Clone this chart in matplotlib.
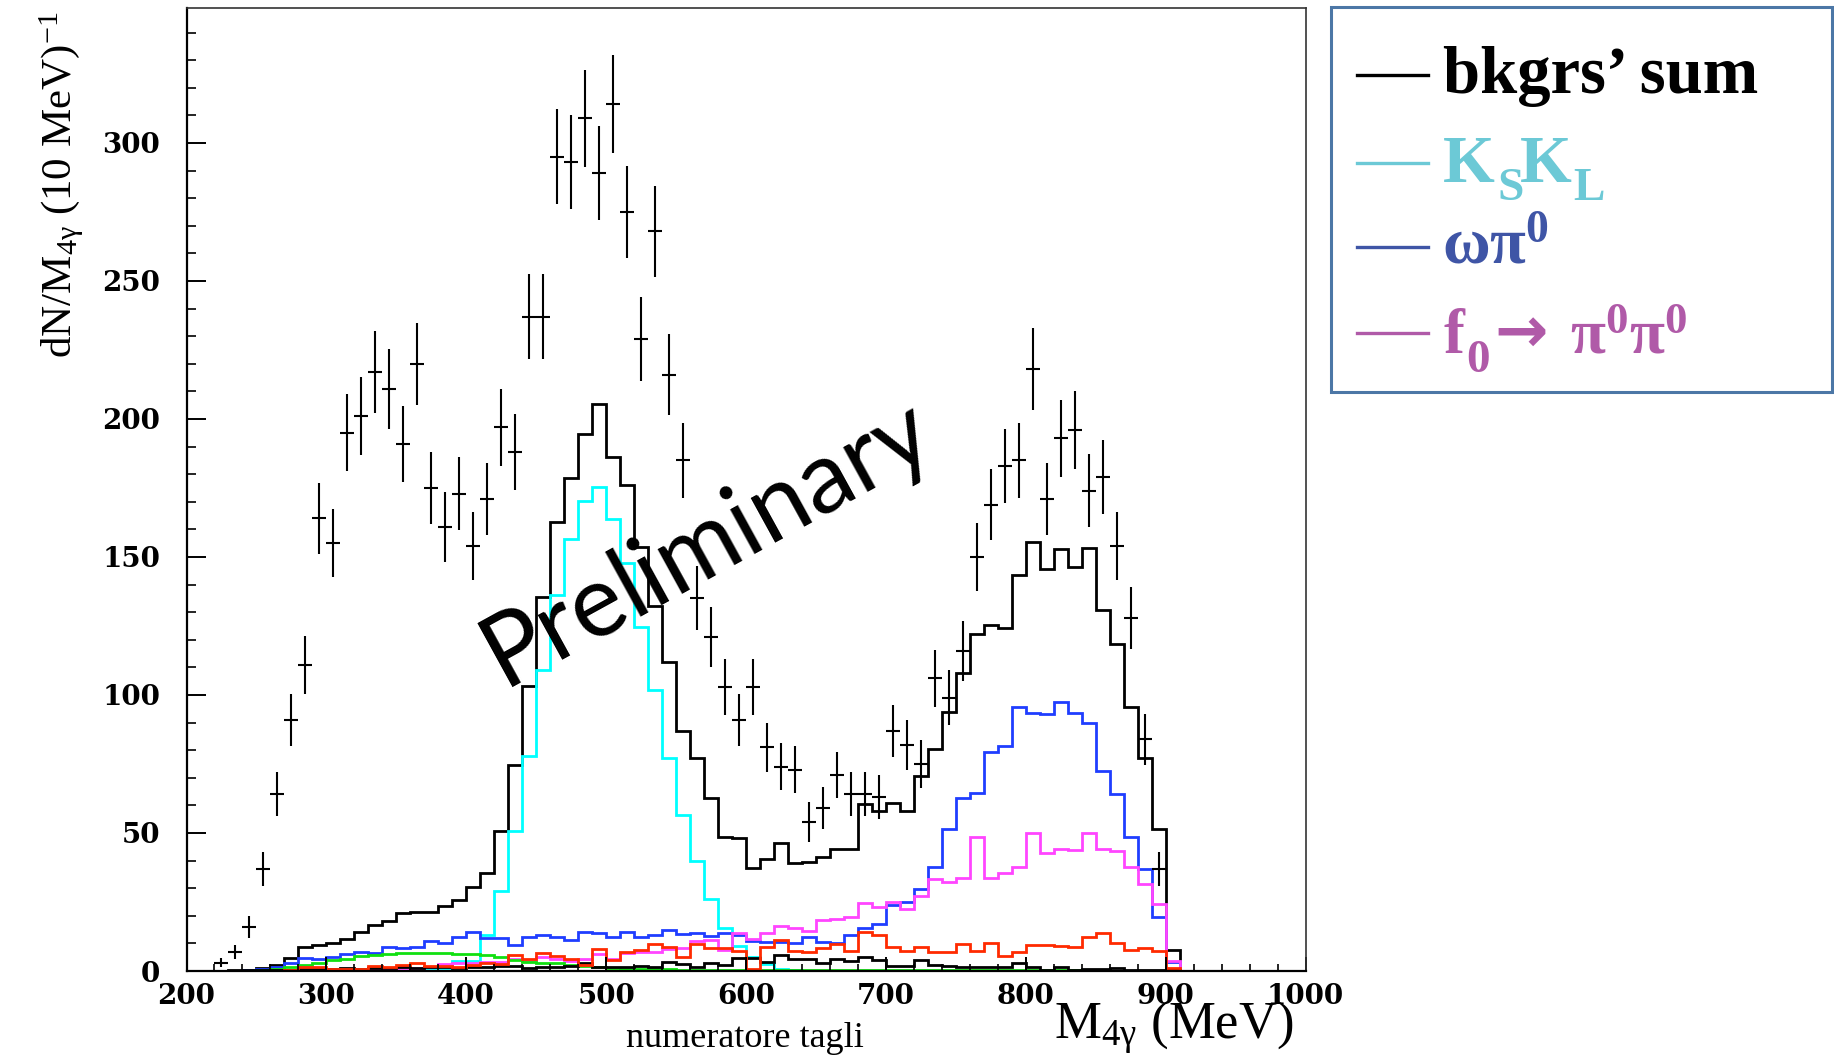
import numpy as np
import matplotlib
matplotlib.use("Agg")
import matplotlib.pyplot as plt
from matplotlib.patches import Rectangle
from matplotlib.lines import Line2D

plt.rcParams["mathtext.fontset"] = "custom"
plt.rcParams["mathtext.rm"] = "Liberation Serif"
plt.rcParams["mathtext.it"] = "Liberation Serif:italic"
plt.rcParams["mathtext.bf"] = "Liberation Serif:bold"

# ---- binning: 10 MeV bins from 200 to 1000 MeV ----
bin_lo = 200
bin_hi = 1000
bin_w = 10

# ---- MC histograms (events / 10 MeV), one value per bin ----
bkg_sum = [0, 0, 0, 0.3, 0.5, 1.2, 2.0, 4.6, 8.8, 9.4,
           10.0, 11.5, 14.3, 16.7, 18.2, 20.9, 21.3, 21.3, 23.7, 25.7,
           30.6, 35.4, 50.8, 74.6, 103.3, 135.6, 162.6, 178.7, 194.5, 205.5,
           186.3, 176.2, 153.5, 132.3, 111.9, 86.8, 77.3, 62.7, 48.6, 48.1,
           37.3, 40.7, 46.5, 39.2, 39.4, 41.4, 44.3, 44.3, 60.4, 58.0,
           61.0, 58.1, 70.8, 80.5, 93.8, 107.8, 122.2, 125.5, 124.4, 143.5,
           155.3, 145.7, 152.8, 146.3, 153.1, 130.7, 118.6, 95.8, 77.3, 51.5,
           7.6, 0, 0, 0, 0, 0, 0, 0, 0, 0]

ks_kl = [0, 0, 0, 0, 0, 0, 0, 0, 0, 0,
         0, 0, 0, 0, 0, 0, 0, 0.3, 0.5, 3.5,
         3.5, 13.0, 29.1, 50.8, 77.9, 109.0, 136.2, 156.5, 170.3, 175.4,
         163.9, 148.0, 124.7, 101.9, 77.3, 56.6, 40.0, 26.2, 15.7, 9.1,
         5.0, 2.5, 0.8, 0.3, 0, 0, 0, 0, 0, 0,
         0, 0, 0, 0, 0, 0, 0, 0, 0, 0,
         0, 0, 0, 0, 0, 0, 0, 0, 0, 0,
         0, 0, 0, 0, 0, 0, 0, 0, 0, 0]

omega_pi0 = [0, 0, 0, 0, 0.3, 0.8, 1.3, 2.8, 4.6, 4.2,
             5.2, 6.2, 7.0, 6.4, 8.6, 8.2, 8.8, 10.9, 10.0, 12.2,
             14.3, 11.8, 12.1, 9.4, 12.2, 13.0, 12.4, 11.2, 14.3, 13.6,
             12.4, 14.3, 12.4, 13.0, 14.9, 13.5, 13.6, 12.7, 13.6, 13.0,
             11.0, 10.6, 10.6, 10.0, 12.2, 10.6, 10.3, 13.0, 15.5, 16.9,
             23.9, 25.1, 29.6, 37.8, 51.3, 62.6, 64.4, 79.5, 81.6, 95.8,
             93.3, 93.0, 97.3, 93.4, 90.0, 72.3, 64.1, 48.6, 36.9, 19.7,
             3.1, 0, 0, 0, 0, 0, 0, 0, 0, 0]

f0_pi0pi0 = [0, 0, 0, 0, 0, 0, 0, 0, 0, 0,
             0.3, 0.3, 0.5, 0.8, 0.8, 1.0, 1.2, 1.3, 2.5, 2.8,
             2.8, 3.3, 3.3, 4.5, 3.5, 5.0, 4.5, 3.5, 4.5, 6.0,
             4.5, 6.5, 7.0, 7.0, 8.0, 8.2, 11.0, 11.2, 7.6, 13.6,
             11.5, 13.9, 16.3, 15.7, 14.5, 18.5, 19.0, 19.7, 24.5, 23.3,
             25.1, 22.3, 27.2, 33.2, 32.4, 33.6, 48.4, 33.6, 35.6, 37.8,
             50.1, 42.6, 44.1, 43.8, 50.1, 44.1, 43.6, 37.8, 31.5, 24.2,
             3.6, 0, 0, 0, 0, 0, 0, 0, 0, 0]

red_bkg = [0, 0, 0, 0, 0, 0, 0, 0.5, 1.6, 1.3,
           0.6, 0.6, 0.6, 1.9, 1.3, 2.2, 2.8, 1.8, 1.8, 1.3,
           2.2, 2.8, 2.5, 5.8, 4.3, 6.6, 5.4, 4.3, 2.2, 7.9,
           4.0, 7.0, 7.6, 9.7, 8.8, 5.2, 9.8, 8.2, 8.2, 7.4,
           0.6, 8.8, 11.2, 7.4, 7.0, 8.2, 9.8, 7.4, 14.3, 13.0,
           8.8, 7.4, 8.8, 7.0, 7.0, 9.8, 7.4, 10.3, 5.4, 7.0,
           9.4, 9.4, 9.1, 8.6, 12.4, 13.6, 10.3, 7.6, 8.5, 7.4,
           1.0, 0, 0, 0, 0, 0, 0, 0, 0, 0]

green_bkg = [0, 0, 0, 0, 0, 0.3, 0.8, 1.5, 2.2, 2.8,
             4.0, 4.3, 5.4, 5.8, 6.2, 6.4, 6.4, 6.4, 6.6, 6.2,
             6.0, 5.8, 5.2, 4.0, 3.4, 3.0, 2.8, 2.2, 1.8, 1.3,
             1.0, 0.8, 0.8, 0.8, 0.8, 0.5, 0.5, 0.5, 0.5, 0.5,
             0.4, 0.4, 0.4, 0.4, 0.4, 0.4, 0.4, 0.4, 0.4, 0.4,
             0.3, 0.3, 0.3, 0.3, 0.3, 0.3, 0.3, 0.3, 0.3, 0.3,
             0.2, 0.2, 0.2, 0.2, 0.2, 0, 0, 0, 0, 0,
             0, 0, 0, 0, 0, 0, 0, 0, 0, 0]

other_bkg = [0, 0, 0, 0, 0.2, 0.3, 0.5, 0.5, 0.7, 0.7,
             0.8, 1.0, 0.8, 1.0, 1.2, 1.3, 1.0, 1.3, 1.5, 1.2,
             1.3, 1.5, 1.8, 1.9, 1.0, 1.3, 1.3, 1.8, 2.8, 1.3,
             1.5, 1.3, 1.8, 1.5, 3.1, 2.5, 1.3, 3.0, 2.2, 4.6,
             4.8, 3.4, 5.8, 4.2, 4.2, 2.8, 4.2, 3.6, 5.2, 4.0,
             1.8, 1.8, 4.0, 2.2, 1.8, 1.3, 1.3, 1.3, 1.3, 2.8,
             1.3, 0.4, 1.3, 0.4, 0.6, 0.6, 1.0, 0.4, 0.3, 0.3,
             0.3, 0, 0, 0, 0, 0, 0, 0, 0, 0]

# ---- data points (bin centres from 225 to 895 MeV) ----
data_first_center = 225
data_counts = [3, 7, 16, 37, 64, 91, 111, 164, 155, 195,
               201, 217, 211, 191, 220, 175, 161, 173, 154, 171,
               197, 188, 237, 237, 295, 293, 309, 289, 314, 275,
               229, 268, 216, 185, 135, 121, 103, 91, 103, 81,
               74, 73, 54, 59, 71, 64, 64, 63, 87, 82,
               75, 106, 99, 116, 150, 169, 183, 185, 218, 171,
               193, 196, 174, 179, 154, 128, 84, 37]
data_errors = [1.7, 2.6, 4.0, 6.1, 8.0, 9.5, 10.5, 12.8, 12.4, 14.0,
               14.2, 14.7, 14.5, 13.8, 14.8, 13.2, 12.7, 13.2, 12.4, 13.1,
               14.0, 13.7, 15.4, 15.4, 17.2, 17.1, 17.6, 17.0, 17.7, 16.6,
               15.1, 16.4, 14.7, 13.6, 11.6, 11.0, 10.1, 9.5, 10.1, 9.0,
               8.6, 8.5, 7.3, 7.7, 8.4, 8.0, 8.0, 7.9, 9.3, 9.1,
               8.7, 10.3, 9.9, 10.8, 12.2, 13.0, 13.5, 13.6, 14.8, 13.1,
               13.9, 14.0, 13.2, 13.4, 12.4, 11.3, 9.2, 6.1]

# ---- legend content ----
legend_colors = ["#000000", "#6cc9d6", "#3f55a6", "#b05aa8"]

# ---------------------------------------------------------------------------
W, H = 1834, 1061
fig = plt.figure(figsize=(W / 100, H / 100), dpi=100)
ax = fig.add_axes([186.5 / W, 1 - 971 / H, (1305.5 - 186.5) / W, (971 - 8) / H])

edges = np.arange(bin_lo, bin_hi + bin_w, bin_w)
hist_lw = 2.0
ax.stairs(bkg_sum, edges, color="black", lw=hist_lw, baseline=0)
ax.stairs(ks_kl, edges, color="#00ffff", lw=hist_lw, baseline=0)
ax.stairs(omega_pi0, edges, color="#1f3dff", lw=hist_lw, baseline=0)
ax.stairs(f0_pi0pi0, edges, color="#ff45ff", lw=hist_lw, baseline=0)
ax.stairs(green_bkg, edges, color="#10e010", lw=hist_lw, baseline=0)
ax.stairs(other_bkg, edges, color="black", lw=hist_lw, baseline=0)
ax.stairs(red_bkg, edges, color="#ff2a00", lw=hist_lw, baseline=0)

x_data = data_first_center + bin_w * np.arange(len(data_counts))
ax.errorbar(x_data, data_counts, yerr=data_errors, xerr=bin_w / 2,
            fmt="none", ecolor="black", elinewidth=1.5, capsize=0)

ax.set_xlim(bin_lo, bin_hi)
ax.set_ylim(0, 348.9)
ax.set_xticks(np.arange(200, 1001, 100))
ax.set_xticks(np.arange(200, 1001, 20), minor=True)
ax.set_yticks(np.arange(0, 301, 50))
ax.set_yticks(np.arange(0, 341, 10), minor=True)
ax.tick_params(axis="y", which="major", direction="in", length=13.7, width=1.4,
               pad=19, labelsize=20)
ax.tick_params(axis="y", which="minor", direction="in", length=6.8, width=1.2)
ax.tick_params(axis="x", which="major", direction="in", length=10, width=1.4,
               pad=8.5, labelsize=20)
ax.tick_params(axis="x", which="minor", direction="in", length=5, width=1.2)
for lbl in ax.get_xticklabels() + ax.get_yticklabels():
    lbl.set_fontfamily("DejaVu Serif")
    lbl.set_fontweight("bold")

for side in ("left", "bottom"):
    ax.spines[side].set_linewidth(1.6)
for side in ("top", "right"):
    ax.spines[side].set_linewidth(1.2)
    ax.spines[side].set_color("#333333")

# axis titles
fig.text(62 / W, 1 - 185 / H, r"dN/M$_{4\mathrm{\gamma}}$ (10 MeV)$^{-1}$",
         family="Liberation Serif", size=31, rotation=90,
         ha="center", va="center")
fig.text(1054 / W, 1 - 1039 / H, r"M$_{4\mathrm{\gamma}}$ (MeV)",
         family="Liberation Serif", size=38, ha="left", va="baseline")
fig.text(745 / W, 1 - 1047 / H, "numeratore tagli",
         family="Liberation Serif", size=26, ha="center", va="baseline")

# watermark
fig.text(721 / W, 1 - 568 / H, "Preliminary", family="Lato", size=72,
         rotation=28.8, rotation_mode="anchor", ha="center", va="baseline")

# legend box
fig.patches.append(Rectangle((1331 / W, 1 - 392 / H), 501 / W, 385 / H,
                             transform=fig.transFigure, facecolor="white",
                             edgecolor="#4c77a6", lw=2.2))
row_y = [75, 163, 247, 333]
for col, ly in zip(legend_colors, row_y):
    fig.lines.append(Line2D([1357 / W, 1428 / W], [1 - ly / H, 1 - ly / H],
                            transform=fig.transFigure, color=col, lw=2.4))


def legend_piece(x, y, s, col, size, **kw):
    fig.text(x / W, 1 - y / H, s, color=col, size=size,
             family=kw.pop("family", "Liberation Serif"),
             weight=kw.pop("weight", "bold"),
             ha=kw.pop("ha", "left"), va=kw.pop("va", "baseline"), **kw)


# row 1: background sum
legend_piece(1443, 93, "bkgrs\u2019 sum", legend_colors[0], 48)
# row 2: K_S K_L
legend_piece(1443, 182, "K", legend_colors[1], 48)
legend_piece(1497, 200, "S", legend_colors[1], 34)
legend_piece(1520, 182, "K", legend_colors[1], 48)
legend_piece(1573, 200, "L", legend_colors[1], 34)
# row 3: omega pi0
legend_piece(1442, 263, r"$\mathbf{\omega\pi^{0}}$", legend_colors[2], 47)
# row 4: f0 -> pi0 pi0
legend_piece(1443, 353, "f", legend_colors[3], 45)
legend_piece(1466, 372, "0", legend_colors[3], 34)
legend_piece(1521, 334, "\u2192", legend_colors[3], 46, family="DejaVu Sans",
             ha="center", va="center")
legend_piece(1570, 353, r"$\mathbf{\pi^{0}\pi^{0}}$", legend_colors[3], 46)

fig.savefig("out.png", dpi=100, facecolor="white")
